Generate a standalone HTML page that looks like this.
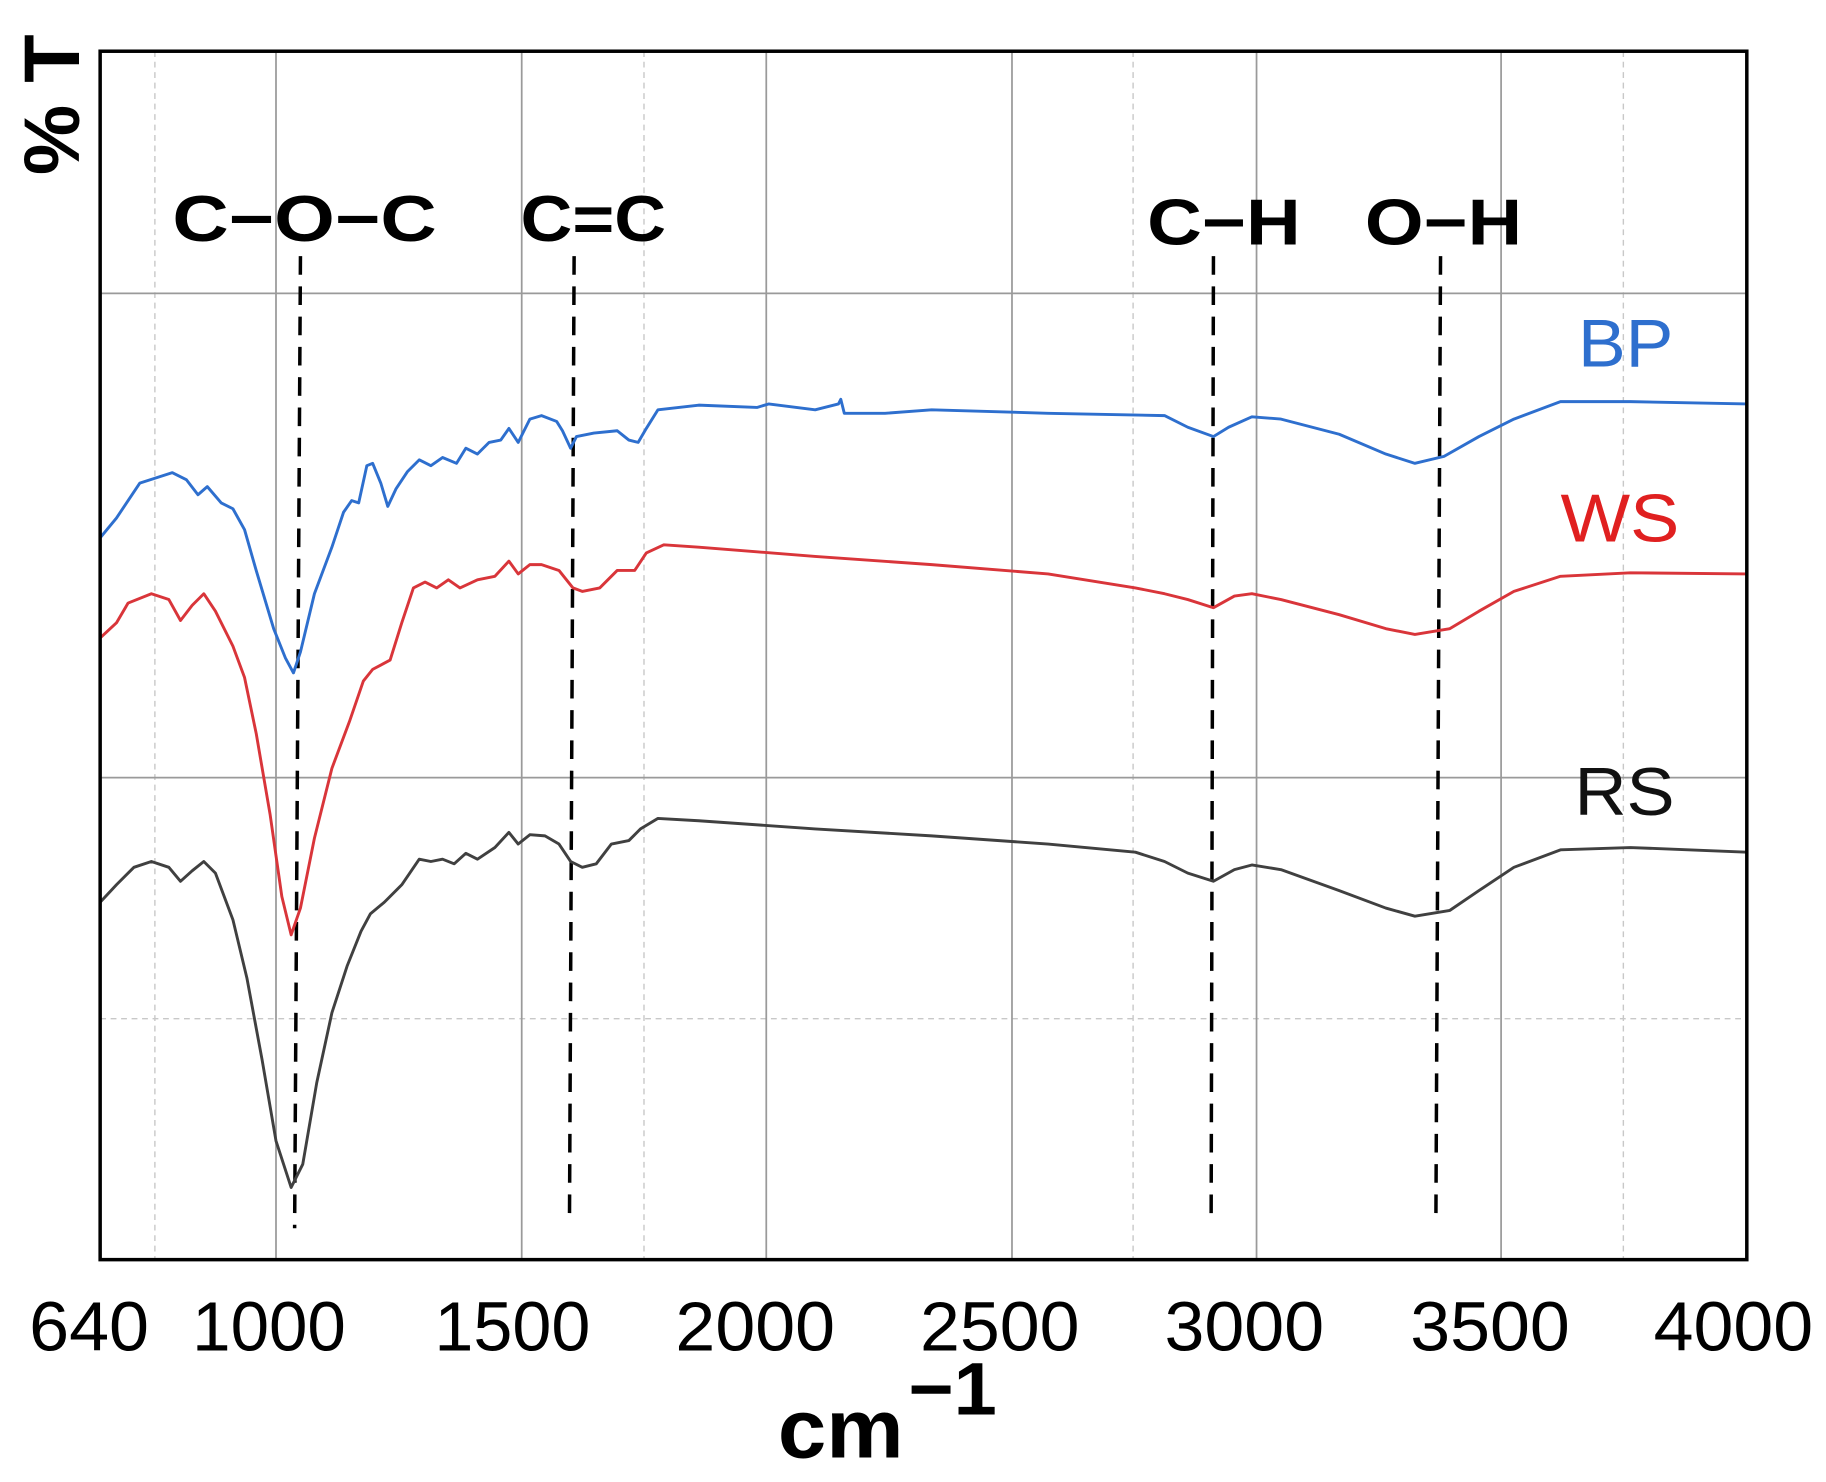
<!DOCTYPE html>
<html><head><meta charset="utf-8"><style>
html,body{margin:0;padding:0;background:#fff;}
svg{display:block;}
text{font-family:"Liberation Sans",Arial,sans-serif;}
</style></head><body>
<svg width="1826" height="1482" viewBox="0 0 1568 1273" preserveAspectRatio="none" xmlns="http://www.w3.org/2000/svg">
<rect x="0" y="0" width="1568" height="1273" fill="#fff"/>
<g stroke="#c8c8c8" stroke-width="1.2" stroke-dasharray="5,4">
<line x1="133" y1="44" x2="133" y2="1082"/>
<line x1="553" y1="44" x2="553" y2="1082"/>
<line x1="973" y1="44" x2="973" y2="1082"/>
<line x1="1394" y1="44" x2="1394" y2="1082"/>
<line x1="86" y1="875" x2="1500" y2="875"/>
</g>
<g stroke="#9a9a9a" stroke-width="1.5">
<line x1="237" y1="44" x2="237" y2="1082"/>
<line x1="448" y1="44" x2="448" y2="1082"/>
<line x1="658" y1="44" x2="658" y2="1082"/>
<line x1="869" y1="44" x2="869" y2="1082"/>
<line x1="1079" y1="44" x2="1079" y2="1082"/>
<line x1="1289" y1="44" x2="1289" y2="1082"/>
<line x1="86" y1="252" x2="1500" y2="252"/>
<line x1="86" y1="668" x2="1500" y2="668"/>
</g>
<g stroke="#000" stroke-width="3" stroke-dasharray="16,10" fill="none">
<line x1="258" y1="220" x2="253" y2="1055"/>
<line x1="493" y1="220" x2="489" y2="1052"/>
<line x1="1042" y1="220" x2="1040" y2="1052"/>
<line x1="1237" y1="220" x2="1233" y2="1052"/>
</g>
<g fill="none" stroke-width="2.5" stroke-linejoin="round">
<polyline stroke="#2e6fce" points="86,462 100,445 120,415 148,406 160,412 170,425 178,418 190,432 200,437 210,455 220,490 235,540 245,565 252,578 258,560 270,510 285,470 295,440 302,430 308,432 315,400 320,398 327,415 333,435 340,420 350,405 360,395 370,400 380,393 392,398 400,385 410,390 420,380 430,378 437,368 445,380 455,360 465,357 478,362 483,370 490,385 495,375 510,372 530,370 540,378 548,380 555,368 565,352 600,348 650,350 660,347 700,352 720,347 722,343 725,355 760,355 800,352 900,355 1000,357 1020,367 1042,375 1055,367 1075,358 1100,360 1150,373 1190,390 1215,398 1240,392 1270,375 1300,360 1340,345 1400,345 1500,347"/>
<polyline stroke="#d9353a" points="86,548 100,535 110,518 130,510 145,515 155,533 165,520 175,510 185,525 200,555 210,582 220,630 232,700 242,770 250,803 258,780 270,720 285,660 300,620 312,585 320,575 335,567 345,535 355,505 365,500 375,505 385,498 395,505 410,498 425,495 437,482 445,493 455,485 465,485 480,490 492,505 500,508 515,505 530,490 545,490 555,475 570,468 600,470 650,474 700,478 800,485 900,493 975,505 1000,510 1020,515 1042,522 1060,512 1075,510 1100,515 1150,528 1190,540 1215,545 1245,540 1270,525 1300,508 1340,495 1400,492 1500,493"/>
<polyline stroke="#404040" points="86,775 100,760 115,745 130,740 145,745 155,757 165,748 175,740 185,750 200,790 212,840 225,910 237,980 250,1020 260,1000 272,930 285,870 298,830 310,800 318,785 330,775 345,760 360,738 370,740 380,738 390,742 400,733 410,738 425,728 437,715 445,725 455,717 468,718 480,725 490,740 500,745 512,742 525,725 540,722 550,712 565,703 600,705 700,712 800,718 900,725 975,732 1000,740 1020,750 1042,757 1060,747 1075,743 1100,747 1150,765 1190,780 1215,787 1245,782 1270,765 1300,745 1340,730 1400,728 1500,732"/>
</g>
<rect x="86" y="44" width="1414" height="1038" fill="none" stroke="#000" stroke-width="3"/>
<g font-weight="bold" font-size="56" fill="#000">
<text x="148" y="207" textLength="227" lengthAdjust="spacingAndGlyphs">C−O−C</text>
<text x="447" y="207" textLength="125" lengthAdjust="spacingAndGlyphs">C=C</text>
<text x="985" y="210" textLength="132" lengthAdjust="spacingAndGlyphs">C−H</text>
<text x="1172" y="210" textLength="135" lengthAdjust="spacingAndGlyphs">O−H</text>
</g>
<text x="1355" y="315" font-size="58" fill="#2e6fce" textLength="82" lengthAdjust="spacingAndGlyphs">BP</text>
<text x="1340" y="465" font-size="58" fill="#e02020" textLength="102" lengthAdjust="spacingAndGlyphs">WS</text>
<text x="1352" y="700" font-size="58" fill="#111" textLength="86" lengthAdjust="spacingAndGlyphs">RS</text>
<text transform="translate(68,90) rotate(-90)" text-anchor="middle" font-size="68" font-weight="bold">% T</text>
<g font-size="60" fill="#000">
<text x="25" y="1160" textLength="103" lengthAdjust="spacingAndGlyphs">640</text>
<text x="165" y="1160" textLength="132" lengthAdjust="spacingAndGlyphs">1000</text>
<text x="373" y="1160" textLength="134" lengthAdjust="spacingAndGlyphs">1500</text>
<text x="580" y="1160" textLength="137" lengthAdjust="spacingAndGlyphs">2000</text>
<text x="790" y="1160" textLength="137" lengthAdjust="spacingAndGlyphs">2500</text>
<text x="1000" y="1160" textLength="137" lengthAdjust="spacingAndGlyphs">3000</text>
<text x="1211" y="1160" textLength="137" lengthAdjust="spacingAndGlyphs">3500</text>
<text x="1420" y="1160" textLength="137" lengthAdjust="spacingAndGlyphs">4000</text>
</g>
<text x="668" y="1252" font-size="72" font-weight="bold" textLength="108" lengthAdjust="spacingAndGlyphs">cm</text>
<text x="780" y="1215" font-size="64" font-weight="bold" textLength="76" lengthAdjust="spacingAndGlyphs">−1</text>
</svg>
</body></html>
